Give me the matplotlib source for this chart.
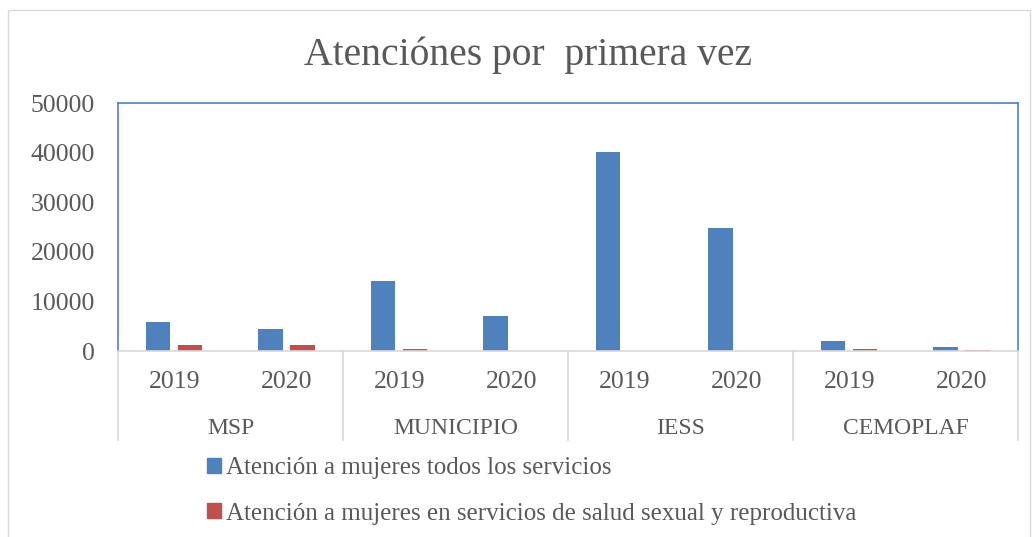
import matplotlib.pyplot as plt
from matplotlib.patches import Rectangle, Patch
import numpy as np

plt.rcParams['font.family'] = ['Liberation Serif', 'DejaVu Serif']

groups = ["MSP", "MUNICIPIO", "IESS", "CEMOPLAF"]
years = ["2019", "2020"]
todos = [5800, 4450, 14100, 7100, 40100, 24800, 1950, 800]
salud_sexual = [1150, 1200, 400, 60, 100, 60, 400, 200]
series_names = ["Atención a mujeres todos los servicios",
                "Atención a mujeres en servicios de salud sexual y reproductiva"]

blue = "#4F81BD"
red = "#C0504D"
txt = "#595959"
fs = 18.5

fig = plt.figure(figsize=(10.34, 5.37), dpi=100)
ax = fig.add_axes([118 / 1034, 1 - 351 / 537, 900 / 1034, 248 / 537])

# outer chart border
fig.patches.append(Rectangle((8 / 1034, -0.05), 1022 / 1034, 1 - 10 / 537 + 0.05,
                             transform=fig.transFigure, fill=False,
                             edgecolor="#D9D9D9", linewidth=1))

x = np.arange(len(todos))
w = 0.22
ax.bar(x - 0.145, todos, w, color=blue)
ax.bar(x + 0.14, salud_sexual, w, color=red)

ax.set_xlim(-0.5, len(todos) - 0.5)
ax.set_ylim(0, 50000)
ax.set_yticks(range(0, 50001, 10000))
ax.tick_params(axis="y", length=0, labelsize=fs, labelcolor=txt, pad=16.5)
ax.set_xticks([])

for s in ["left", "top", "right"]:
    ax.spines[s].set_color(blue)
    ax.spines[s].set_linewidth(1.2)
ax.spines["bottom"].set_color("#D9D9D9")
ax.spines["bottom"].set_linewidth(1.2)

# year labels and group labels
trans = ax.get_xaxis_transform()
for i in x:
    ax.text(i, -31 / 248, years[i % 2], transform=trans, ha="center", va="center",
            fontsize=fs, color=txt)
for g, name in enumerate(groups):
    ax.text(2 * g + 0.5, -78 / 248, name, transform=trans, ha="center", va="center",
            fontsize=17, color=txt)
for b in np.arange(-0.5, len(todos), 2):
    ax.plot([b, b], [0, -89 / 248], transform=trans, color="#D9D9D9",
            linewidth=1.2, clip_on=False)

fig.text(528 / 1034, 1 - 55 / 537, "Atenciónes por  primera vez", ha="center",
         va="center", fontsize=28.5, color=txt)

handles = [Patch(color=blue, label=series_names[0]),
           Patch(color=red, label=series_names[1])]
fig.legend(handles=handles, loc="upper left", bbox_to_anchor=(197 / 1034, 1 - 447 / 537),
           frameon=False, fontsize=18, handlelength=0.55, handleheight=0.55,
           handletextpad=0.2, labelspacing=0.95, labelcolor=txt, borderaxespad=0)

fig.savefig("out.png", dpi=100)
